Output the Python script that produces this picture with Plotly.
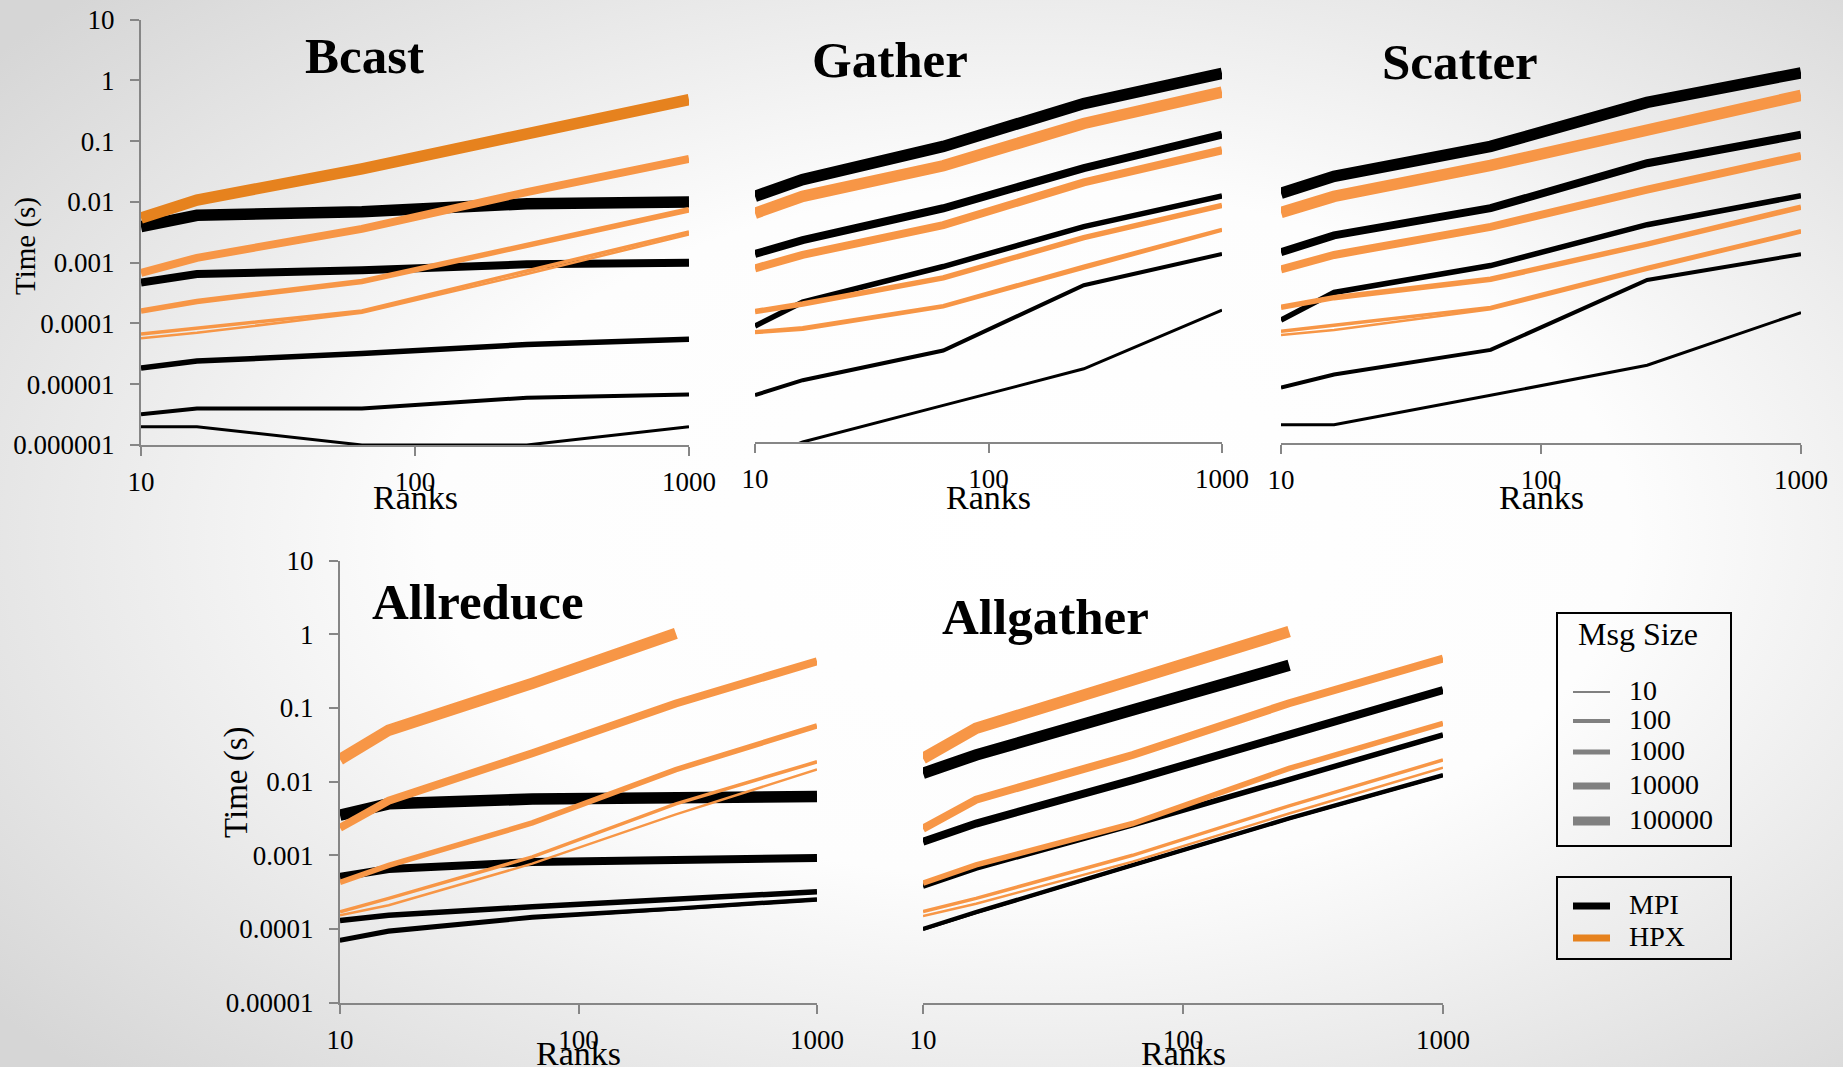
import base64
import plotly.graph_objects as go

# ---------------------------------------------------------------------------
# Data: collective operation time (s) vs. number of ranks, per message size
# Rows follow MSG_SIZES order: 10, 100, 1000, 10000, 100000 bytes
# ---------------------------------------------------------------------------
RANKS = [10, 16, 64, 256, 1000]
MSG_SIZES = ["10", "100", "1000", "10000", "100000"]
X_TICKS = [10, 100, 1000]
X_TICK_TEXT = ["10", "100", "1000"]
Y_TICKS_TOP = [1e-6, 1e-5, 1e-4, 1e-3, 1e-2, 1e-1, 1, 10]
Y_TICK_TEXT_TOP = ["0.000001", "0.00001", "0.0001", "0.001", "0.01", "0.1", "1", "10"]
Y_TICKS_BOTTOM = [1e-5, 1e-4, 1e-3, 1e-2, 1e-1, 1, 10]
Y_TICK_TEXT_BOTTOM = ["0.00001", "0.0001", "0.001", "0.01", "0.1", "1", "10"]

bcast_mpi = [
    [2.0e-6, 2.0e-6, 1.0e-6, 1.0e-6, 2.0e-6],
    [3.2e-6, 4.0e-6, 4.0e-6, 6.0e-6, 6.8e-6],
    [1.85e-5, 2.4e-5, 3.2e-5, 4.5e-5, 5.5e-5],
    [4.7e-4, 6.5e-4, 7.5e-4, 9.4e-4, 1.0e-3],
    [3.9e-3, 6.0e-3, 6.9e-3, 9.3e-3, 9.9e-3],
]
bcast_hpx = [
    [5.7e-5, 7.0e-5, 1.5e-4, 6.5e-4, 2.9e-3],
    [6.7e-5, 8.3e-5, 1.6e-4, 7.3e-4, 3.2e-3],
    [1.6e-4, 2.3e-4, 4.9e-4, 1.9e-3, 7.4e-3],
    [6.8e-4, 1.2e-3, 3.6e-3, 1.45e-2, 5.1e-2],
    [5.4e-3, 1.07e-2, 3.5e-2, 1.35e-1, 4.8e-1],
]

gather_mpi = [
    [5.0e-7, 1.0e-6, 4.0e-6, 1.6e-5, 1.48e-4],
    [5.9e-6, 1.04e-5, 3.2e-5, 3.8e-4, 1.24e-3],
    [8.1e-5, 2.0e-4, 7.7e-4, 3.5e-3, 1.12e-2],
    [1.24e-3, 2.1e-3, 7.0e-3, 3.2e-2, 1.14e-1],
    [1.1e-2, 2.07e-2, 7.3e-2, 3.7e-1, 1.16],
]
gather_hpx = [
    [6.2e-5, 7.0e-5, 1.65e-4, 7.2e-4, 3.0e-3],
    [6.5e-5, 7.6e-5, 1.75e-4, 7.8e-4, 3.15e-3],
    [1.4e-4, 1.86e-4, 5.0e-4, 2.3e-3, 7.8e-3],
    [7.2e-4, 1.2e-3, 3.7e-3, 1.86e-2, 6.3e-2],
    [5.8e-3, 1.1e-2, 3.5e-2, 1.74e-1, 5.7e-1],
]

scatter_mpi = [
    [2.0e-6, 2.0e-6, 6.1e-6, 1.9e-5, 1.4e-4],
    [8.2e-6, 1.34e-5, 3.4e-5, 4.8e-4, 1.28e-3],
    [1.05e-4, 3.0e-4, 8.3e-4, 3.9e-3, 1.17e-2],
    [1.38e-3, 2.6e-3, 7.3e-3, 4.0e-2, 1.18e-1],
    [1.28e-2, 2.44e-2, 7.6e-2, 4.0e-1, 1.23],
]
scatter_hpx = [
    [6.0e-5, 7.2e-5, 1.58e-4, 7.1e-4, 2.9e-3],
    [6.9e-5, 8.7e-5, 1.7e-4, 7.7e-4, 3.1e-3],
    [1.7e-4, 2.46e-4, 4.94e-4, 1.87e-3, 7.6e-3],
    [7.2e-4, 1.24e-3, 3.6e-3, 1.47e-2, 5.3e-2],
    [6.2e-3, 1.14e-2, 3.7e-2, 1.35e-1, 5.25e-1],
]

allreduce_mpi = [
    [6.8e-5, 9.0e-5, 1.4e-4, 1.85e-4, 2.45e-4],
    [7.1e-5, 9.5e-5, 1.46e-4, 1.9e-4, 2.54e-4],
    [1.3e-4, 1.53e-4, 2.0e-4, 2.5e-4, 3.2e-4],
    [5.1e-4, 6.5e-4, 8.1e-4, 8.7e-4, 9.2e-4],
    [3.5e-3, 5.0e-3, 5.8e-3, 6.2e-3, 6.3e-3],
]
allreduce_hpx = [
    [1.53e-4, 2.1e-4, 7.7e-4, 3.6e-3, 1.46e-2],
    [1.71e-4, 2.6e-4, 9.5e-4, 5.0e-3, 1.86e-2],
    [4.3e-4, 7.3e-4, 2.75e-3, 1.46e-2, 5.7e-2],
    [2.36e-3, 5.5e-3, 2.43e-2, 1.15e-1, 4.3e-1],
    [2.0e-2, 5.0e-2, 2.16e-1, 1.03, None],
]

allgather_mpi = [
    [9.8e-5, 1.65e-4, 7.2e-4, 3.1e-3, 1.2e-2],
    [1.0e-4, 1.7e-4, 7.4e-4, 3.2e-3, 1.23e-2],
    [3.8e-4, 6.7e-4, 2.6e-3, 1.05e-2, 4.3e-2],
    [1.53e-3, 2.7e-3, 1.05e-2, 4.3e-2, 1.75e-1],
    [1.3e-2, 2.3e-2, 9.4e-2, 3.8e-1, None],
]
allgather_hpx = [
    [1.5e-4, 2.2e-4, 8.2e-4, 3.7e-3, 1.55e-2],
    [1.72e-4, 2.6e-4, 1.0e-3, 4.7e-3, 1.97e-2],
    [4.2e-4, 7.4e-4, 2.7e-3, 1.51e-2, 6.2e-2],
    [2.3e-3, 5.7e-3, 2.3e-2, 1.16e-1, 4.7e-1],
    [2.07e-2, 5.3e-2, 2.4e-1, 1.09, None],
]

# ---------------------------------------------------------------------------
# Styling
# ---------------------------------------------------------------------------
W, H = 1843, 1067
FONT = "Liberation Serif"
AXIS_GRAY = "#868686"
MPI_COLOR = "#000000"
HPX_COLOR = "#F79646"
HPX_DARK = "#E6821E"
MPI_WIDTHS = [3, 4, 5.5, 8, 11.5]
HPX_WIDTHS = [2.5, 3.5, 5.5, 8, 11.5]


def px_x(x):
    return x / W


def px_y(y):
    return 1 - y / H


# name, data (mpi, hpx), x-domain (px), y-domain (px top, px bottom), y range, show y axis
panels = [
    ("Bcast", bcast_mpi, bcast_hpx, (141, 689), (19.5, 445), (-6, 1), True),
    ("Gather", gather_mpi, gather_hpx, (755, 1222), (16.5, 442), (-6, 1), False),
    ("Scatter", scatter_mpi, scatter_hpx, (1281, 1801), (17.5, 443), (-6, 1), False),
    ("Allreduce", allreduce_mpi, allreduce_hpx, (340, 817), (560.7, 1002.6), (-5, 1), True),
    ("Allgather", allgather_mpi, allgather_hpx, (923, 1443), (560.7, 1002.6), (-5, 1), False),
]

fig = go.Figure()
layout_axes = {}

for i, (name, mpi, hpx, xd, yd, yr, show_y) in enumerate(panels):
    k = "" if i == 0 else str(i + 1)
    xa, ya = "x" + k, "y" + k

    for j, row in enumerate(mpi):
        fig.add_trace(go.Scatter(
            x=RANKS, y=row, mode="lines", xaxis=xa, yaxis=ya,
            line=dict(color=MPI_COLOR, width=MPI_WIDTHS[j]),
            name=f"MPI {MSG_SIZES[j]}", showlegend=False, connectgaps=False,
        ))
    for j, row in enumerate(hpx):
        color = HPX_DARK if (name == "Bcast" and j == 4) else HPX_COLOR
        fig.add_trace(go.Scatter(
            x=RANKS, y=row, mode="lines", xaxis=xa, yaxis=ya,
            line=dict(color=color, width=HPX_WIDTHS[j]),
            name=f"HPX {MSG_SIZES[j]}", showlegend=False, connectgaps=False,
        ))

    y_ticks = Y_TICKS_TOP if yr[0] == -6 else Y_TICKS_BOTTOM
    y_text = Y_TICK_TEXT_TOP if yr[0] == -6 else Y_TICK_TEXT_BOTTOM

    layout_axes["xaxis" + k] = dict(
        type="log", range=[1, 3], domain=[px_x(xd[0]), px_x(xd[1])],
        anchor=ya, showgrid=False, zeroline=False,
        showline=True, linecolor=AXIS_GRAY, linewidth=2,
        ticks="outside", ticklen=9, tickwidth=2, tickcolor=AXIS_GRAY,
        tickvals=X_TICKS, ticktext=X_TICK_TEXT, ticklabelstandoff=3,
        tickfont=dict(family=FONT, size=27, color="#000000"),
        fixedrange=True, automargin=False,
    )
    layout_axes["yaxis" + k] = dict(
        type="log", range=list(yr), domain=[px_y(yd[1]), px_y(yd[0])],
        anchor=xa, showgrid=False, zeroline=False,
        showline=show_y, linecolor=AXIS_GRAY, linewidth=2,
        ticks="outside" if show_y else "", ticklen=9, tickwidth=2, tickcolor=AXIS_GRAY,
        tickvals=y_ticks, ticktext=y_text, showticklabels=show_y,
        ticklabelstandoff=10,
        tickfont=dict(family=FONT, size=27, color="#000000"),
        fixedrange=True, automargin=False,
    )

annotations = []

# Panel titles
titles = [("Bcast", 364, 56), ("Gather", 890, 60), ("Scatter", 1460, 62),
          ("Allreduce", 478, 602), ("Allgather", 1045, 617)]
for text, x, y in titles:
    annotations.append(dict(
        text=text, x=px_x(x), y=px_y(y), xref="paper", yref="paper",
        xanchor="center", yanchor="middle", showarrow=False,
        font=dict(family=FONT, size=51, color="#000000", weight=700),
    ))

# Axis titles
for x, y in [(415, 497), (988, 497), (1541, 497), (578, 1053), (1183, 1053)]:
    annotations.append(dict(
        text="Ranks", x=px_x(x), y=px_y(y), xref="paper", yref="paper",
        xanchor="center", yanchor="middle", showarrow=False,
        font=dict(family=FONT, size=34, color="#000000"),
    ))
for x, y, s in [(25, 246, 29), (236, 782, 33)]:
    annotations.append(dict(
        text="Time (s)", x=px_x(x), y=px_y(y), xref="paper", yref="paper",
        xanchor="center", yanchor="middle", showarrow=False, textangle=-90,
        font=dict(family=FONT, size=s, color="#000000"),
    ))

# Legend boxes drawn as shapes
shapes = [
    dict(type="rect", xref="paper", yref="paper",
         x0=px_x(1557), x1=px_x(1731), y0=px_y(846), y1=px_y(613),
         line=dict(color="#000000", width=2), fillcolor="rgba(0,0,0,0)"),
    dict(type="rect", xref="paper", yref="paper",
         x0=px_x(1557), x1=px_x(1731), y0=px_y(959), y1=px_y(877),
         line=dict(color="#000000", width=2), fillcolor="rgba(0,0,0,0)"),
]
annotations.append(dict(
    text="Msg Size", x=px_x(1638), y=px_y(634), xref="paper", yref="paper",
    xanchor="center", yanchor="middle", showarrow=False,
    font=dict(family=FONT, size=32, color="#000000"),
))
size_rows = [692, 721, 752, 786, 821]
size_swatch_w = [2, 4, 5, 7, 9]
for lbl, yy, lw in zip(MSG_SIZES, size_rows, size_swatch_w):
    shapes.append(dict(type="line", xref="paper", yref="paper",
                       x0=px_x(1573), x1=px_x(1610), y0=px_y(yy), y1=px_y(yy),
                       line=dict(color="#808080", width=lw)))
    annotations.append(dict(
        text=lbl, x=px_x(1627), y=px_y(yy - 2), xref="paper", yref="paper",
        xanchor="left", yanchor="middle", showarrow=False,
        font=dict(family=FONT, size=28, color="#000000"),
    ))
for lbl, yy, col in [("MPI", 906, MPI_COLOR), ("HPX", 938, HPX_DARK)]:
    shapes.append(dict(type="line", xref="paper", yref="paper",
                       x0=px_x(1573), x1=px_x(1610), y0=px_y(yy), y1=px_y(yy),
                       line=dict(color=col, width=7)))
    annotations.append(dict(
        text=lbl, x=px_x(1627), y=px_y(yy - 2), xref="paper", yref="paper",
        xanchor="left", yanchor="middle", showarrow=False,
        font=dict(family=FONT, size=28, color="#000000"),
    ))

# Soft radial background
svg = (
    '<svg xmlns="http://www.w3.org/2000/svg" width="1843" height="1067" '
    'viewBox="0 0 1843 1067" preserveAspectRatio="none">'
    '<defs><radialGradient id="g" cx="0.56" cy="0.5" r="0.72">'
    '<stop offset="0" stop-color="#ffffff"/>'
    '<stop offset="0.45" stop-color="#fdfdfd"/>'
    '<stop offset="1" stop-color="#d6d6d6"/>'
    '</radialGradient></defs>'
    '<rect width="1843" height="1067" fill="url(#g)"/></svg>'
)
bg_src = "data:image/svg+xml;base64," + base64.b64encode(svg.encode()).decode()

fig.update_layout(
    width=W, height=H,
    margin=dict(l=0, r=0, t=0, b=0, pad=0, autoexpand=False),
    paper_bgcolor="#ffffff", plot_bgcolor="rgba(0,0,0,0)",
    showlegend=False,
    font=dict(family=FONT, color="#000000"),
    annotations=annotations, shapes=shapes,
    images=[dict(source=bg_src, xref="paper", yref="paper", x=0, y=1,
                 sizex=1, sizey=1, sizing="stretch", layer="below",
                 xanchor="left", yanchor="top")],
    **layout_axes,
)

fig.write_html("out.html", config={"displayModeBar": False})
